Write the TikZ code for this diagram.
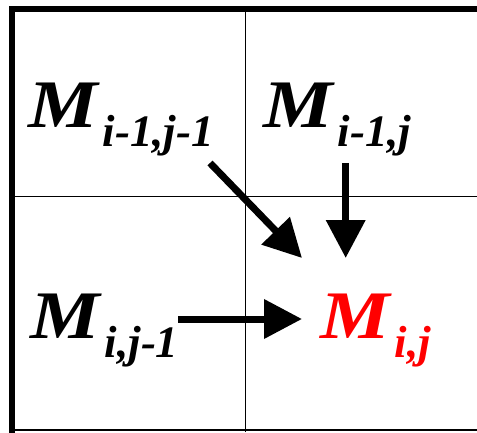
\documentclass[tikz,border=0pt]{standalone}
\usepackage{fontspec}
\setmainfont{Liberation Serif}
\usetikzlibrary{arrows.meta}

\newcommand\entry[1]{\scalebox{1.15}[1]{\fontsize{68}{68}\selectfont M}\kern5pt\raisebox{-19pt}{\fontsize{45}{45}\selectfont #1}}

\begin{document}
\begin{tikzpicture}[x=1pt, y=1pt,
  lbl/.style={anchor=base west, inner sep=0pt, font=\bfseries\itshape},
  arr/.style={line width=7pt, -{Triangle[length=38pt,width=38pt]}},
  gridline/.style={line width=1.6pt}]
  \useasboundingbox (0,0) rectangle (477,432);
  \clip (0,0) rectangle (477,432);
  % table lines
  \draw[gridline] (245.5,0) -- (245.5,423);
  \draw[gridline] (12,235.5) -- (480,235.5);
  \draw[gridline] (12,2) -- (480,2);
  \draw[line width=6pt] (12,-5) -- (12,423) -- (480,423);
  % entries
  \node[lbl] (m00) at (28,304) {\entry{i-1,j-1}};
  \node[lbl] (m01) at (263,304) {\entry{i-1,j}};
  \node[lbl] (m10) at (30,94) {\entry{i,j-1}};
  \node[lbl, red] (m11) at (320,94) {\entry{i,j}};
  % dependencies
  \draw[arr] ([xshift=182pt,yshift=-35pt]m00.base west) -- ([xshift=-18pt,yshift=80pt]m11.base west);
  \draw[arr] ([xshift=82.7pt,yshift=-35pt]m01.base west) -- ([xshift=25.7pt,yshift=80pt]m11.base west);
  \draw[arr] ([xshift=148pt,yshift=19pt]m10.base west) -- ([xshift=-18pt,yshift=19pt]m11.base west);
\end{tikzpicture}
\end{document}
